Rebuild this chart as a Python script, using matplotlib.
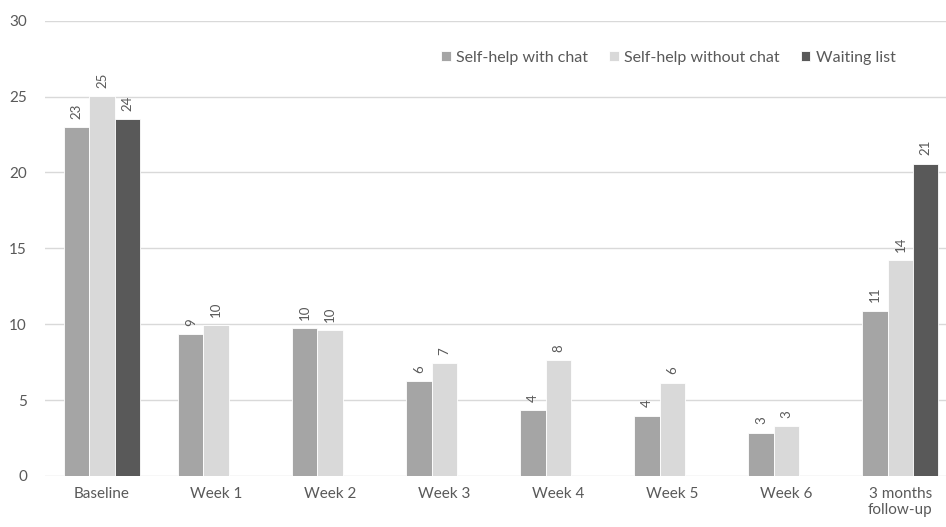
import numpy as np
import matplotlib.pyplot as plt

# values
categories = ['Baseline', 'Week 1', 'Week 2', 'Week 3', 'Week 4', 'Week 5', 'Week 6', '3 months\nfollow-up']
with_chat = [22.98, 9.34, 9.74, 6.23, 4.32, 3.97, 2.85, 10.9]
without_chat = [25.02, 9.95, 9.6, 7.43, 7.63, 6.16, 3.27, 14.2]
waiting_list = [23.53, None, None, None, None, None, None, 20.57]

series_names = ['Self-help with chat', 'Self-help without chat', 'Waiting list']
colors = ['#A5A5A5', '#D9D9D9', '#595959']
text_col = '#595959'

plt.rcParams['font.family'] = ['Lato', 'DejaVu Sans']

fig = plt.figure(figsize=(9.46, 5.27), dpi=100)
ax = fig.add_axes([0.0476, 0.0968, 0.9524, 0.8639])

x = np.arange(len(categories))
width = 0.222
offsets = [-width, 0, width]

for vals, name, col, off in zip([with_chat, without_chat, waiting_list], series_names, colors, offsets):
    xs = [xi + off for xi, v in zip(x, vals) if v is not None]
    ys = [v for v in vals if v is not None]
    bars = ax.bar(xs, ys, width, color=col, edgecolor='white', linewidth=0.6, label=name, zorder=3)
    for b, v in zip(bars, ys):
        ax.annotate('%d' % round(v), (b.get_x() + b.get_width() / 2, v),
                    xytext=(0, 6), textcoords='offset points', rotation=90,
                    ha='center', va='bottom', fontsize=9.5, color=text_col)

ax.set_ylim(0, 30)
ax.set_xlim(-0.5, 7.4)
ax.set_yticks(range(0, 31, 5))
ax.set_xticks(x)
ax.set_xticklabels(categories)
ax.grid(axis='y', color='#D9D9D9', linewidth=1, zorder=0)
for s in ax.spines.values():
    s.set_visible(False)
ax.tick_params(length=0, colors=text_col, labelsize=11)
ax.tick_params(axis='y', pad=13)
ax.tick_params(axis='x', pad=8)

leg = ax.legend(loc='upper right', bbox_to_anchor=(0.96, 0.966), ncol=3, frameon=False,
                fontsize=11.5, handlelength=0.6, handleheight=0.6, handletextpad=0.35,
                columnspacing=1.3, labelcolor=text_col)

fig.savefig('out.png', dpi=100)
